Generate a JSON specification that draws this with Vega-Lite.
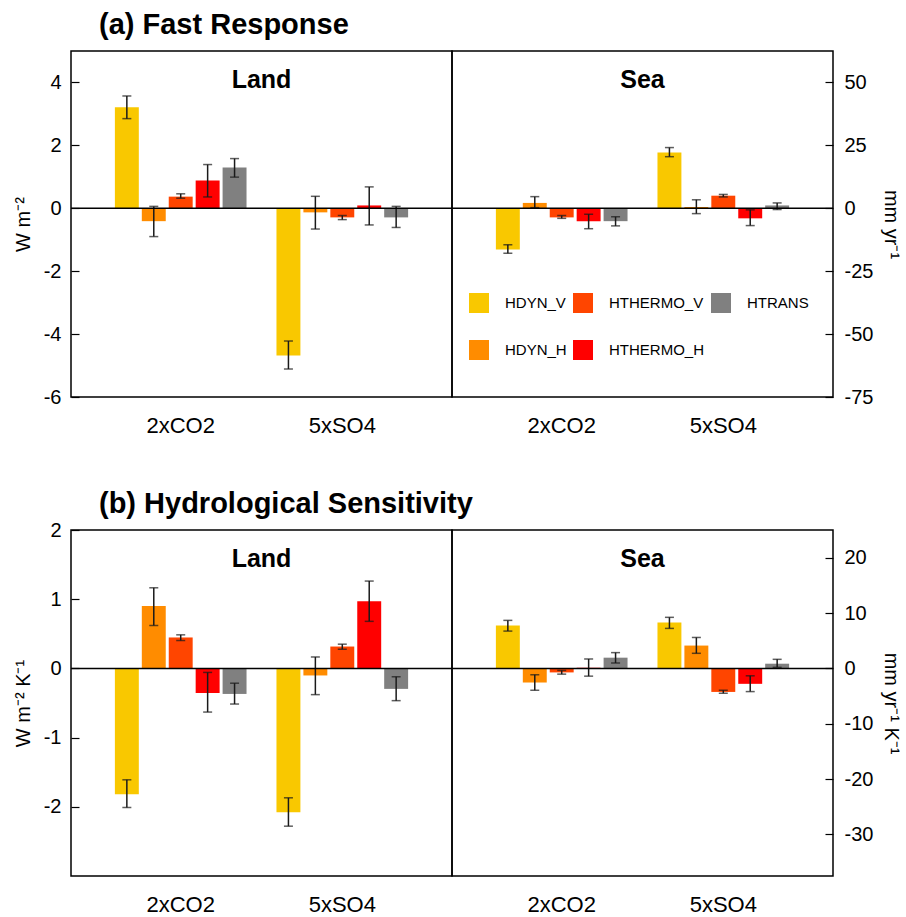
{
  "$schema": "https://vega.github.io/schema/vega-lite/v6.json",
  "padding": {"left": 12, "top": 11, "right": 4, "bottom": 2},
  "background": "white",
  "config": {
    "font": "Liberation Sans",
    "view": {"stroke": "black", "strokeWidth": 1.5},
    "axis": {"grid": false, "domain": false, "labelFontSize": 20, "titleFontSize": 20, "titleFontWeight": "normal", "labelColor": "black", "titleColor": "black", "tickColor": "black", "tickWidth": 1.2},
    "title": {"color": "black"}
  },
  "datasets": {
    "bars": [
      {"panel": "a", "region": "Land", "scenario": "2xCO2", "comp": "DYN_V", "value": 3.21, "lo": 2.85, "hi": 3.57},
      {"panel": "a", "region": "Land", "scenario": "2xCO2", "comp": "DYN_H", "value": -0.41, "lo": -0.9, "hi": 0.06},
      {"panel": "a", "region": "Land", "scenario": "2xCO2", "comp": "THERMO_V", "value": 0.37, "lo": 0.32, "hi": 0.46},
      {"panel": "a", "region": "Land", "scenario": "2xCO2", "comp": "THERMO_H", "value": 0.88, "lo": 0.36, "hi": 1.39},
      {"panel": "a", "region": "Land", "scenario": "2xCO2", "comp": "TRANS", "value": 1.3, "lo": 0.99, "hi": 1.58},
      {"panel": "a", "region": "Land", "scenario": "5xSO4", "comp": "DYN_V", "value": -4.68, "lo": -5.11, "hi": -4.22},
      {"panel": "a", "region": "Land", "scenario": "5xSO4", "comp": "DYN_H", "value": -0.13, "lo": -0.66, "hi": 0.38},
      {"panel": "a", "region": "Land", "scenario": "5xSO4", "comp": "THERMO_V", "value": -0.29, "lo": -0.36, "hi": -0.23},
      {"panel": "a", "region": "Land", "scenario": "5xSO4", "comp": "THERMO_H", "value": 0.09, "lo": -0.53, "hi": 0.68},
      {"panel": "a", "region": "Land", "scenario": "5xSO4", "comp": "TRANS", "value": -0.29, "lo": -0.61, "hi": 0.06},
      {"panel": "a", "region": "Sea", "scenario": "2xCO2", "comp": "DYN_V", "value": -1.31, "lo": -1.43, "hi": -1.16},
      {"panel": "a", "region": "Sea", "scenario": "2xCO2", "comp": "DYN_H", "value": 0.17, "lo": 0.02, "hi": 0.37},
      {"panel": "a", "region": "Sea", "scenario": "2xCO2", "comp": "THERMO_V", "value": -0.29, "lo": -0.32, "hi": -0.23},
      {"panel": "a", "region": "Sea", "scenario": "2xCO2", "comp": "THERMO_H", "value": -0.41, "lo": -0.65, "hi": -0.19},
      {"panel": "a", "region": "Sea", "scenario": "2xCO2", "comp": "TRANS", "value": -0.41, "lo": -0.56, "hi": -0.27},
      {"panel": "a", "region": "Sea", "scenario": "5xSO4", "comp": "DYN_V", "value": 1.77, "lo": 1.64, "hi": 1.93},
      {"panel": "a", "region": "Sea", "scenario": "5xSO4", "comp": "DYN_H", "value": 0.04, "lo": -0.17, "hi": 0.27},
      {"panel": "a", "region": "Sea", "scenario": "5xSO4", "comp": "THERMO_V", "value": 0.4, "lo": 0.36, "hi": 0.44},
      {"panel": "a", "region": "Sea", "scenario": "5xSO4", "comp": "THERMO_H", "value": -0.32, "lo": -0.55, "hi": -0.05},
      {"panel": "a", "region": "Sea", "scenario": "5xSO4", "comp": "TRANS", "value": 0.09, "lo": -0.04, "hi": 0.17},
      {"panel": "b", "region": "Land", "scenario": "2xCO2", "comp": "DYN_V", "value": -1.82, "lo": -2.01, "hi": -1.61},
      {"panel": "b", "region": "Land", "scenario": "2xCO2", "comp": "DYN_H", "value": 0.9, "lo": 0.62, "hi": 1.165},
      {"panel": "b", "region": "Land", "scenario": "2xCO2", "comp": "THERMO_V", "value": 0.447, "lo": 0.403, "hi": 0.485},
      {"panel": "b", "region": "Land", "scenario": "2xCO2", "comp": "THERMO_H", "value": -0.354, "lo": -0.631, "hi": -0.058},
      {"panel": "b", "region": "Land", "scenario": "2xCO2", "comp": "TRANS", "value": -0.369, "lo": -0.515, "hi": -0.214},
      {"panel": "b", "region": "Land", "scenario": "5xSO4", "comp": "DYN_V", "value": -2.08, "lo": -2.28, "hi": -1.87},
      {"panel": "b", "region": "Land", "scenario": "5xSO4", "comp": "DYN_H", "value": -0.102, "lo": -0.379, "hi": 0.165},
      {"panel": "b", "region": "Land", "scenario": "5xSO4", "comp": "THERMO_V", "value": 0.316, "lo": 0.277, "hi": 0.35},
      {"panel": "b", "region": "Land", "scenario": "5xSO4", "comp": "THERMO_H", "value": 0.971, "lo": 0.68, "hi": 1.262},
      {"panel": "b", "region": "Land", "scenario": "5xSO4", "comp": "TRANS", "value": -0.296, "lo": -0.466, "hi": -0.121},
      {"panel": "b", "region": "Sea", "scenario": "2xCO2", "comp": "DYN_V", "value": 0.621, "lo": 0.539, "hi": 0.694},
      {"panel": "b", "region": "Sea", "scenario": "2xCO2", "comp": "DYN_H", "value": -0.204, "lo": -0.316, "hi": -0.092},
      {"panel": "b", "region": "Sea", "scenario": "2xCO2", "comp": "THERMO_V", "value": -0.058, "lo": -0.083, "hi": -0.029},
      {"panel": "b", "region": "Sea", "scenario": "2xCO2", "comp": "THERMO_H", "value": 0.01, "lo": -0.112, "hi": 0.136},
      {"panel": "b", "region": "Sea", "scenario": "2xCO2", "comp": "TRANS", "value": 0.155, "lo": 0.078, "hi": 0.228},
      {"panel": "b", "region": "Sea", "scenario": "5xSO4", "comp": "DYN_V", "value": 0.665, "lo": 0.578, "hi": 0.738},
      {"panel": "b", "region": "Sea", "scenario": "5xSO4", "comp": "DYN_H", "value": 0.33, "lo": 0.218, "hi": 0.447},
      {"panel": "b", "region": "Sea", "scenario": "5xSO4", "comp": "THERMO_V", "value": -0.34, "lo": -0.359, "hi": -0.316},
      {"panel": "b", "region": "Sea", "scenario": "5xSO4", "comp": "THERMO_H", "value": -0.223, "lo": -0.335, "hi": -0.107},
      {"panel": "b", "region": "Sea", "scenario": "5xSO4", "comp": "TRANS", "value": 0.068, "lo": 0.015, "hi": 0.131}
    ],
    "zero": [{"v": 0}]
  },
  "resolve": {"scale": {"color": "independent"}, "legend": {"color": "independent"}},
  "spacing": 53,
  "vconcat": [
    {
      "title": {"text": "(a) Fast Response", "anchor": "start", "frame": "group", "fontSize": 29, "fontWeight": "bold", "dx": 28, "offset": 10},
      "spacing": 0,
      "bounds": "flush",
      "resolve": {"scale": {"color": "independent"}, "legend": {"color": "independent"}},
      "hconcat": [
        {
          "width": 381, "height": 346,
          "title": {"text": "Land", "fontSize": 25, "fontWeight": "bold", "offset": -42},
          "layer": [
            {
              "data": {"name": "bars"},
              "transform": [{"filter": "datum.panel == 'a' && datum.region == 'Land'"}],
              "mark": {"type": "bar"},
              "encoding": {
                "x": {"field": "scenario", "type": "nominal", "sort": ["2xCO2", "5xSO4"], "scale": {"paddingInner": 0.1667, "paddingOuter": 0.2623}, "axis": {"title": null, "labelAngle": 0, "labelFontSize": 22, "ticks": false, "labelPadding": 18}},
                "xOffset": {"field": "comp", "type": "nominal", "sort": ["DYN_V", "DYN_H", "THERMO_V", "THERMO_H", "TRANS"], "scale": {"paddingInner": 0.111, "paddingOuter": 0.0556}},
                "y": {"field": "value", "type": "quantitative", "title": "W m⁻²", "scale": {"domain": [-6, 5], "nice": false, "zero": false}, "axis": {"values": [-6, -4, -2, 0, 2, 4], "labelExpr": "replace(datum.label, '−', '-')", "tickSize": -8, "labelPadding": 18, "titlePadding": 10}},
                "color": {"field": "comp", "type": "nominal", "scale": {"domain": ["DYN_V", "DYN_H", "THERMO_V", "THERMO_H", "TRANS"], "range": ["#F9C800", "#FF8C00", "#FF4500", "#FF0000", "#808080"]}, "legend": null}
              }
            },
            {
              "data": {"name": "bars"},
              "transform": [{"filter": "datum.panel == 'a' && datum.region == 'Land'"}],
              "mark": {"type": "rule", "color": "#1a1a1a", "strokeWidth": 1.5},
              "encoding": {
                "x": {"field": "scenario", "type": "nominal", "sort": ["2xCO2", "5xSO4"]},
                "xOffset": {"field": "comp", "type": "nominal", "sort": ["DYN_V", "DYN_H", "THERMO_V", "THERMO_H", "TRANS"]},
                "y": {"field": "lo", "type": "quantitative", "title": "W m⁻²", "axis": {"values": [-6, -4, -2, 0, 2, 4], "labelExpr": "replace(datum.label, '−', '-')", "tickSize": -8, "labelPadding": 18, "titlePadding": 10}},
                "y2": {"field": "hi"}
              }
            },
            {
              "data": {"name": "bars"},
              "transform": [{"filter": "datum.panel == 'a' && datum.region == 'Land'"}],
              "mark": {"type": "tick", "orient": "horizontal", "color": "#1a1a1a", "size": 9, "thickness": 1.5},
              "encoding": {
                "x": {"field": "scenario", "type": "nominal", "sort": ["2xCO2", "5xSO4"]},
                "xOffset": {"field": "comp", "type": "nominal", "sort": ["DYN_V", "DYN_H", "THERMO_V", "THERMO_H", "TRANS"]},
                "y": {"field": "lo", "type": "quantitative", "title": "W m⁻²", "axis": {"values": [-6, -4, -2, 0, 2, 4], "labelExpr": "replace(datum.label, '−', '-')", "tickSize": -8, "labelPadding": 18, "titlePadding": 10}}
              }
            },
            {
              "data": {"name": "bars"},
              "transform": [{"filter": "datum.panel == 'a' && datum.region == 'Land'"}],
              "mark": {"type": "tick", "orient": "horizontal", "color": "#1a1a1a", "size": 9, "thickness": 1.5},
              "encoding": {
                "x": {"field": "scenario", "type": "nominal", "sort": ["2xCO2", "5xSO4"]},
                "xOffset": {"field": "comp", "type": "nominal", "sort": ["DYN_V", "DYN_H", "THERMO_V", "THERMO_H", "TRANS"]},
                "y": {"field": "hi", "type": "quantitative", "title": "W m⁻²", "axis": {"values": [-6, -4, -2, 0, 2, 4], "labelExpr": "replace(datum.label, '−', '-')", "tickSize": -8, "labelPadding": 18, "titlePadding": 10}}
              }
            },
            {
              "data": {"name": "zero"},
              "mark": {"type": "rule", "color": "black", "strokeWidth": 1.5},
              "encoding": {"y": {"field": "v", "type": "quantitative", "title": "W m⁻²", "axis": {"values": [-6, -4, -2, 0, 2, 4], "labelExpr": "replace(datum.label, '−', '-')", "tickSize": -8, "labelPadding": 18, "titlePadding": 10}}}
            }
          ]
        },
        {
          "width": 381, "height": 346,
          "title": {"text": "Sea", "fontSize": 25, "fontWeight": "bold", "offset": -42},
          "layer": [
            {
              "data": {"name": "bars"},
              "transform": [{"filter": "datum.panel == 'a' && datum.region == 'Sea'"}],
              "mark": {"type": "bar"},
              "encoding": {
                "x": {"field": "scenario", "type": "nominal", "sort": ["2xCO2", "5xSO4"], "scale": {"paddingInner": 0.1667, "paddingOuter": 0.2623}, "axis": {"title": null, "labelAngle": 0, "labelFontSize": 22, "ticks": false, "labelPadding": 18}},
                "xOffset": {"field": "comp", "type": "nominal", "sort": ["DYN_V", "DYN_H", "THERMO_V", "THERMO_H", "TRANS"], "scale": {"paddingInner": 0.111, "paddingOuter": 0.0556}},
                "y": {"field": "value", "type": "quantitative", "title": "mm yr⁻¹", "scale": {"domain": [-6, 5], "nice": false, "zero": false}, "axis": {"orient": "right", "values": [-6, -4, -2, 0, 2, 4], "labelExpr": "replace(format(round(datum.value * 12.5), 'd'), '−', '-')", "tickSize": -8, "labelPadding": 19, "titlePadding": 8}},
                "color": {"field": "comp", "type": "nominal", "scale": {"domain": ["DYN_V", "DYN_H", "THERMO_V", "THERMO_H", "TRANS"], "range": ["#F9C800", "#FF8C00", "#FF4500", "#FF0000", "#808080"]}, "legend": {"orient": "none", "legendX": 17, "legendY": 242, "title": null, "columns": 3, "symbolType": "square", "symbolSize": 400, "symbolStrokeWidth": 0, "symbolOpacity": 1, "labelFontSize": 15, "labelOffset": 16, "labelExpr": "'H' + datum.label", "rowPadding": 27, "columnPadding": 6, "labelColor": "black"}}
              }
            },
            {
              "data": {"name": "bars"},
              "transform": [{"filter": "datum.panel == 'a' && datum.region == 'Sea'"}],
              "mark": {"type": "rule", "color": "#1a1a1a", "strokeWidth": 1.5},
              "encoding": {
                "x": {"field": "scenario", "type": "nominal", "sort": ["2xCO2", "5xSO4"]},
                "xOffset": {"field": "comp", "type": "nominal", "sort": ["DYN_V", "DYN_H", "THERMO_V", "THERMO_H", "TRANS"]},
                "y": {"field": "lo", "type": "quantitative", "title": "mm yr⁻¹", "axis": {"orient": "right", "values": [-6, -4, -2, 0, 2, 4], "labelExpr": "replace(format(round(datum.value * 12.5), 'd'), '−', '-')", "tickSize": -8, "labelPadding": 19, "titlePadding": 8}},
                "y2": {"field": "hi"}
              }
            },
            {
              "data": {"name": "bars"},
              "transform": [{"filter": "datum.panel == 'a' && datum.region == 'Sea'"}],
              "mark": {"type": "tick", "orient": "horizontal", "color": "#1a1a1a", "size": 9, "thickness": 1.5},
              "encoding": {
                "x": {"field": "scenario", "type": "nominal", "sort": ["2xCO2", "5xSO4"]},
                "xOffset": {"field": "comp", "type": "nominal", "sort": ["DYN_V", "DYN_H", "THERMO_V", "THERMO_H", "TRANS"]},
                "y": {"field": "lo", "type": "quantitative", "title": "mm yr⁻¹", "axis": {"orient": "right", "values": [-6, -4, -2, 0, 2, 4], "labelExpr": "replace(format(round(datum.value * 12.5), 'd'), '−', '-')", "tickSize": -8, "labelPadding": 19, "titlePadding": 8}}
              }
            },
            {
              "data": {"name": "bars"},
              "transform": [{"filter": "datum.panel == 'a' && datum.region == 'Sea'"}],
              "mark": {"type": "tick", "orient": "horizontal", "color": "#1a1a1a", "size": 9, "thickness": 1.5},
              "encoding": {
                "x": {"field": "scenario", "type": "nominal", "sort": ["2xCO2", "5xSO4"]},
                "xOffset": {"field": "comp", "type": "nominal", "sort": ["DYN_V", "DYN_H", "THERMO_V", "THERMO_H", "TRANS"]},
                "y": {"field": "hi", "type": "quantitative", "title": "mm yr⁻¹", "axis": {"orient": "right", "values": [-6, -4, -2, 0, 2, 4], "labelExpr": "replace(format(round(datum.value * 12.5), 'd'), '−', '-')", "tickSize": -8, "labelPadding": 19, "titlePadding": 8}}
              }
            },
            {
              "data": {"name": "zero"},
              "mark": {"type": "rule", "color": "black", "strokeWidth": 1.5},
              "encoding": {"y": {"field": "v", "type": "quantitative", "title": "mm yr⁻¹", "axis": {"orient": "right", "values": [-6, -4, -2, 0, 2, 4], "labelExpr": "replace(format(round(datum.value * 12.5), 'd'), '−', '-')", "tickSize": -8, "labelPadding": 19, "titlePadding": 8}}}
            }
          ]
        }
      ]
    },
    {
      "title": {"text": "(b) Hydrological Sensitivity", "anchor": "start", "frame": "group", "fontSize": 29, "fontWeight": "bold", "dx": 28, "offset": 0},
      "spacing": 0,
      "bounds": "flush",
      "resolve": {"scale": {"color": "independent"}, "legend": {"color": "independent"}},
      "hconcat": [
        {
          "width": 381, "height": 346,
          "title": {"text": "Land", "fontSize": 25, "fontWeight": "bold", "offset": -52},
          "layer": [
            {
              "data": {"name": "bars"},
              "transform": [{"filter": "datum.panel == 'b' && datum.region == 'Land'"}],
              "mark": {"type": "bar"},
              "encoding": {
                "x": {"field": "scenario", "type": "nominal", "sort": ["2xCO2", "5xSO4"], "scale": {"paddingInner": 0.1667, "paddingOuter": 0.2623}, "axis": {"title": null, "labelAngle": 0, "labelFontSize": 22, "ticks": false, "labelPadding": 18}},
                "xOffset": {"field": "comp", "type": "nominal", "sort": ["DYN_V", "DYN_H", "THERMO_V", "THERMO_H", "TRANS"], "scale": {"paddingInner": 0.111, "paddingOuter": 0.0556}},
                "y": {"field": "value", "type": "quantitative", "title": "W m⁻² K⁻¹", "scale": {"domain": [-3, 2], "nice": false, "zero": false}, "axis": {"values": [-2, -1, 0, 1, 2], "labelExpr": "replace(datum.label, '−', '-')", "tickSize": -8, "labelPadding": 18, "titlePadding": 10}},
                "color": {"field": "comp", "type": "nominal", "scale": {"domain": ["DYN_V", "DYN_H", "THERMO_V", "THERMO_H", "TRANS"], "range": ["#F9C800", "#FF8C00", "#FF4500", "#FF0000", "#808080"]}, "legend": null}
              }
            },
            {
              "data": {"name": "bars"},
              "transform": [{"filter": "datum.panel == 'b' && datum.region == 'Land'"}],
              "mark": {"type": "rule", "color": "#1a1a1a", "strokeWidth": 1.5},
              "encoding": {
                "x": {"field": "scenario", "type": "nominal", "sort": ["2xCO2", "5xSO4"]},
                "xOffset": {"field": "comp", "type": "nominal", "sort": ["DYN_V", "DYN_H", "THERMO_V", "THERMO_H", "TRANS"]},
                "y": {"field": "lo", "type": "quantitative", "title": "W m⁻² K⁻¹", "axis": {"values": [-2, -1, 0, 1, 2], "labelExpr": "replace(datum.label, '−', '-')", "tickSize": -8, "labelPadding": 18, "titlePadding": 10}},
                "y2": {"field": "hi"}
              }
            },
            {
              "data": {"name": "bars"},
              "transform": [{"filter": "datum.panel == 'b' && datum.region == 'Land'"}],
              "mark": {"type": "tick", "orient": "horizontal", "color": "#1a1a1a", "size": 9, "thickness": 1.5},
              "encoding": {
                "x": {"field": "scenario", "type": "nominal", "sort": ["2xCO2", "5xSO4"]},
                "xOffset": {"field": "comp", "type": "nominal", "sort": ["DYN_V", "DYN_H", "THERMO_V", "THERMO_H", "TRANS"]},
                "y": {"field": "lo", "type": "quantitative", "title": "W m⁻² K⁻¹", "axis": {"values": [-2, -1, 0, 1, 2], "labelExpr": "replace(datum.label, '−', '-')", "tickSize": -8, "labelPadding": 18, "titlePadding": 10}}
              }
            },
            {
              "data": {"name": "bars"},
              "transform": [{"filter": "datum.panel == 'b' && datum.region == 'Land'"}],
              "mark": {"type": "tick", "orient": "horizontal", "color": "#1a1a1a", "size": 9, "thickness": 1.5},
              "encoding": {
                "x": {"field": "scenario", "type": "nominal", "sort": ["2xCO2", "5xSO4"]},
                "xOffset": {"field": "comp", "type": "nominal", "sort": ["DYN_V", "DYN_H", "THERMO_V", "THERMO_H", "TRANS"]},
                "y": {"field": "hi", "type": "quantitative", "title": "W m⁻² K⁻¹", "axis": {"values": [-2, -1, 0, 1, 2], "labelExpr": "replace(datum.label, '−', '-')", "tickSize": -8, "labelPadding": 18, "titlePadding": 10}}
              }
            },
            {
              "data": {"name": "zero"},
              "mark": {"type": "rule", "color": "black", "strokeWidth": 1.5},
              "encoding": {"y": {"field": "v", "type": "quantitative", "title": "W m⁻² K⁻¹", "axis": {"values": [-2, -1, 0, 1, 2], "labelExpr": "replace(datum.label, '−', '-')", "tickSize": -8, "labelPadding": 18, "titlePadding": 10}}}
            }
          ]
        },
        {
          "width": 381, "height": 346,
          "title": {"text": "Sea", "fontSize": 25, "fontWeight": "bold", "offset": -42},
          "layer": [
            {
              "data": {"name": "bars"},
              "transform": [{"filter": "datum.panel == 'b' && datum.region == 'Sea'"}],
              "mark": {"type": "bar"},
              "encoding": {
                "x": {"field": "scenario", "type": "nominal", "sort": ["2xCO2", "5xSO4"], "scale": {"paddingInner": 0.1667, "paddingOuter": 0.2623}, "axis": {"title": null, "labelAngle": 0, "labelFontSize": 22, "ticks": false, "labelPadding": 18}},
                "xOffset": {"field": "comp", "type": "nominal", "sort": ["DYN_V", "DYN_H", "THERMO_V", "THERMO_H", "TRANS"], "scale": {"paddingInner": 0.111, "paddingOuter": 0.0556}},
                "y": {"field": "value", "type": "quantitative", "title": "mm yr⁻¹ K⁻¹", "scale": {"domain": [-3, 2], "nice": false, "zero": false}, "axis": {"orient": "right", "values": [-2.4, -1.6, -0.8, 0, 0.8, 1.6], "labelExpr": "replace(format(round(datum.value * 12.5), 'd'), '−', '-')", "tickSize": -8, "labelPadding": 19, "titlePadding": 8}},
                "color": {"field": "comp", "type": "nominal", "scale": {"domain": ["DYN_V", "DYN_H", "THERMO_V", "THERMO_H", "TRANS"], "range": ["#F9C800", "#FF8C00", "#FF4500", "#FF0000", "#808080"]}, "legend": null}
              }
            },
            {
              "data": {"name": "bars"},
              "transform": [{"filter": "datum.panel == 'b' && datum.region == 'Sea'"}],
              "mark": {"type": "rule", "color": "#1a1a1a", "strokeWidth": 1.5},
              "encoding": {
                "x": {"field": "scenario", "type": "nominal", "sort": ["2xCO2", "5xSO4"]},
                "xOffset": {"field": "comp", "type": "nominal", "sort": ["DYN_V", "DYN_H", "THERMO_V", "THERMO_H", "TRANS"]},
                "y": {"field": "lo", "type": "quantitative", "title": "mm yr⁻¹ K⁻¹", "axis": {"orient": "right", "values": [-2.4, -1.6, -0.8, 0, 0.8, 1.6], "labelExpr": "replace(format(round(datum.value * 12.5), 'd'), '−', '-')", "tickSize": -8, "labelPadding": 19, "titlePadding": 8}},
                "y2": {"field": "hi"}
              }
            },
            {
              "data": {"name": "bars"},
              "transform": [{"filter": "datum.panel == 'b' && datum.region == 'Sea'"}],
              "mark": {"type": "tick", "orient": "horizontal", "color": "#1a1a1a", "size": 9, "thickness": 1.5},
              "encoding": {
                "x": {"field": "scenario", "type": "nominal", "sort": ["2xCO2", "5xSO4"]},
                "xOffset": {"field": "comp", "type": "nominal", "sort": ["DYN_V", "DYN_H", "THERMO_V", "THERMO_H", "TRANS"]},
                "y": {"field": "lo", "type": "quantitative", "title": "mm yr⁻¹ K⁻¹", "axis": {"orient": "right", "values": [-2.4, -1.6, -0.8, 0, 0.8, 1.6], "labelExpr": "replace(format(round(datum.value * 12.5), 'd'), '−', '-')", "tickSize": -8, "labelPadding": 19, "titlePadding": 8}}
              }
            },
            {
              "data": {"name": "bars"},
              "transform": [{"filter": "datum.panel == 'b' && datum.region == 'Sea'"}],
              "mark": {"type": "tick", "orient": "horizontal", "color": "#1a1a1a", "size": 9, "thickness": 1.5},
              "encoding": {
                "x": {"field": "scenario", "type": "nominal", "sort": ["2xCO2", "5xSO4"]},
                "xOffset": {"field": "comp", "type": "nominal", "sort": ["DYN_V", "DYN_H", "THERMO_V", "THERMO_H", "TRANS"]},
                "y": {"field": "hi", "type": "quantitative", "title": "mm yr⁻¹ K⁻¹", "axis": {"orient": "right", "values": [-2.4, -1.6, -0.8, 0, 0.8, 1.6], "labelExpr": "replace(format(round(datum.value * 12.5), 'd'), '−', '-')", "tickSize": -8, "labelPadding": 19, "titlePadding": 8}}
              }
            },
            {
              "data": {"name": "zero"},
              "mark": {"type": "rule", "color": "black", "strokeWidth": 1.5},
              "encoding": {"y": {"field": "v", "type": "quantitative", "title": "mm yr⁻¹ K⁻¹", "axis": {"orient": "right", "values": [-2.4, -1.6, -0.8, 0, 0.8, 1.6], "labelExpr": "replace(format(round(datum.value * 12.5), 'd'), '−', '-')", "tickSize": -8, "labelPadding": 19, "titlePadding": 8}}}
            }
          ]
        }
      ]
    }
  ]
}
